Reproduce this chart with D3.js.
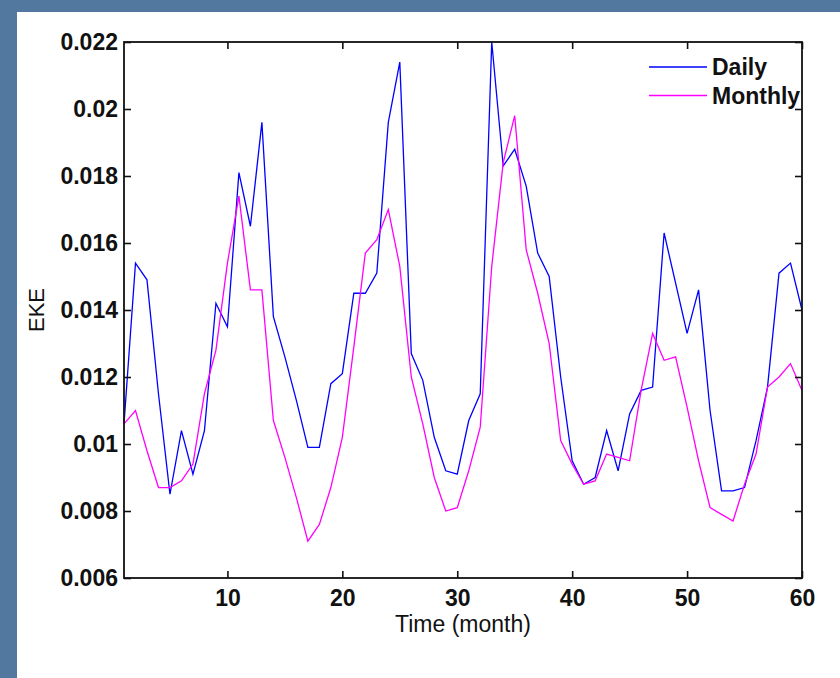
<!DOCTYPE html>
<html>
<head>
<meta charset="utf-8">
<script src="https://cdn.jsdelivr.net/npm/d3@7"></script>
<style>
  html, body { margin: 0; padding: 0; background: #52789f; }
  svg { display: block; }
</style>
</head>
<body>
<div id="chart"></div>
<script>
// EKE per month
const months = d3.range(1, 61);
const daily = [
  0.0106, 0.0154, 0.0149, 0.0115, 0.0085, 0.0104, 0.0091, 0.0104, 0.0142, 0.0135,
  0.0181, 0.0165, 0.0196, 0.0138, 0.0126, 0.0113, 0.0099, 0.0099, 0.0118, 0.0121,
  0.0145, 0.0145, 0.0151, 0.0196, 0.0214, 0.0127, 0.0119, 0.0102, 0.0092, 0.0091,
  0.0107, 0.0115, 0.0220, 0.0183, 0.0188, 0.0177, 0.0157, 0.0150, 0.0120, 0.0095,
  0.0088, 0.0090, 0.0104, 0.0092, 0.0109, 0.0116, 0.0117, 0.0163, 0.0148, 0.0133,
  0.0146, 0.0110, 0.0086, 0.0086, 0.0087, 0.0101, 0.0117, 0.0151, 0.0154, 0.0140
];
const monthly = [
  0.0106, 0.0110, 0.0098, 0.0087, 0.0087, 0.0089, 0.0094, 0.0115, 0.0128, 0.0154,
  0.0174, 0.0146, 0.0146, 0.0107, 0.0096, 0.0084, 0.0071, 0.0076, 0.0087, 0.0102,
  0.0129, 0.0157, 0.0161, 0.0170, 0.0153, 0.0120, 0.0106, 0.0090, 0.0080, 0.0081,
  0.0092, 0.0105, 0.0153, 0.0184, 0.0198, 0.0158, 0.0145, 0.0130, 0.0101, 0.0094,
  0.0088, 0.0089, 0.0097, 0.0096, 0.0095, 0.0116, 0.0133, 0.0125, 0.0126, 0.0111,
  0.0095, 0.0081, 0.0079, 0.0077, 0.0088, 0.0097, 0.0117, 0.0120, 0.0124, 0.0116
];
const xTicks = [10, 20, 30, 40, 50, 60];
const yTicks = [0.006, 0.008, 0.01, 0.012, 0.014, 0.016, 0.018, 0.02, 0.022];
const seriesNames = ['Daily', 'Monthly'];
const seriesColors = ['#0000ff', '#ff00ff'];

const W = 840, H = 678;
const margin = { top: 42, right: 38, bottom: 100, left: 124 };
const width = W - margin.left - margin.right;
const height = H - margin.top - margin.bottom;

const svg = d3.select('#chart').append('svg')
    .attr('width', W)
    .attr('height', H);

// slide background + white panel
svg.append('rect').attr('width', W).attr('height', H).attr('fill', '#52789f');
svg.append('rect')
    .attr('x', 17).attr('y', 12)
    .attr('width', W - 17).attr('height', H - 12)
    .attr('fill', 'white');

const g = svg.append('g').attr('transform', `translate(${margin.left},${margin.top})`);

const x = d3.scaleLinear().domain([1, 60]).range([0, width]);
const y = d3.scaleLinear().domain([0.006, 0.022]).range([height, 0]);

const fmt = d => String(+d.toFixed(3));
const font = '"Liberation Sans", Arial, sans-serif';

// lines
const line = d3.line().x((d, i) => x(months[i])).y(d => y(d));
[daily, monthly].forEach((s, k) => {
    g.append('path')
        .datum(s)
        .attr('fill', 'none')
        .attr('stroke', seriesColors[k])
        .attr('stroke-width', 1.3)
        .attr('d', line);
});

// axes with inward ticks, MATLAB box style
const styleAxis = sel => {
    sel.select('.domain').remove();
    sel.selectAll('.tick line').attr('stroke', '#111').attr('stroke-width', 1.6);
    sel.selectAll('.tick text')
        .attr('fill', '#111')
        .style('font-family', font)
        .style('font-size', '23px')
        .style('font-weight', 'bold');
};

g.append('g')
    .attr('transform', `translate(0,${height})`)
    .call(d3.axisBottom(x).tickValues(xTicks).tickSizeInner(-7).tickSizeOuter(0).tickPadding(12).tickFormat(d3.format('d')))
    .call(styleAxis);
g.append('g')
    .call(d3.axisTop(x).tickValues(xTicks).tickSizeInner(-7).tickSizeOuter(0).tickFormat(''))
    .call(styleAxis);
g.append('g')
    .call(d3.axisLeft(y).tickValues(yTicks).tickSizeInner(-7).tickSizeOuter(0).tickPadding(6).tickFormat(fmt))
    .call(styleAxis);
g.append('g')
    .attr('transform', `translate(${width},0)`)
    .call(d3.axisRight(y).tickValues(yTicks).tickSizeInner(-7).tickSizeOuter(0).tickFormat(''))
    .call(styleAxis);

g.append('rect')
    .attr('width', width).attr('height', height)
    .attr('fill', 'none')
    .attr('stroke', '#111')
    .attr('stroke-width', 1.8);

// axis labels
svg.append('text')
    .attr('x', margin.left + width / 2)
    .attr('y', 632)
    .attr('text-anchor', 'middle')
    .style('font-family', font)
    .style('font-size', '23px')
    .attr('fill', '#111')
    .text('Time (month)');

svg.append('text')
    .attr('transform', `translate(44,${margin.top + height / 2}) rotate(-90)`)
    .attr('text-anchor', 'middle')
    .style('font-family', font)
    .style('font-size', '22px')
    .attr('fill', '#111')
    .text('EKE');

// legend
const legend = svg.append('g').attr('transform', 'translate(649,67)');
seriesNames.forEach((name, i) => {
    const row = legend.append('g').attr('transform', `translate(0,${i * 28.6})`);
    row.append('line')
        .attr('x1', 0).attr('x2', 58)
        .attr('stroke', seriesColors[i])
        .attr('stroke-width', 1.5);
    row.append('text')
        .attr('x', 63).attr('y', 8)
        .style('font-family', font)
        .style('font-size', '23px')
        .style('font-weight', 'bold')
        .attr('fill', '#111')
        .text(name);
});
</script>
</body>
</html>
